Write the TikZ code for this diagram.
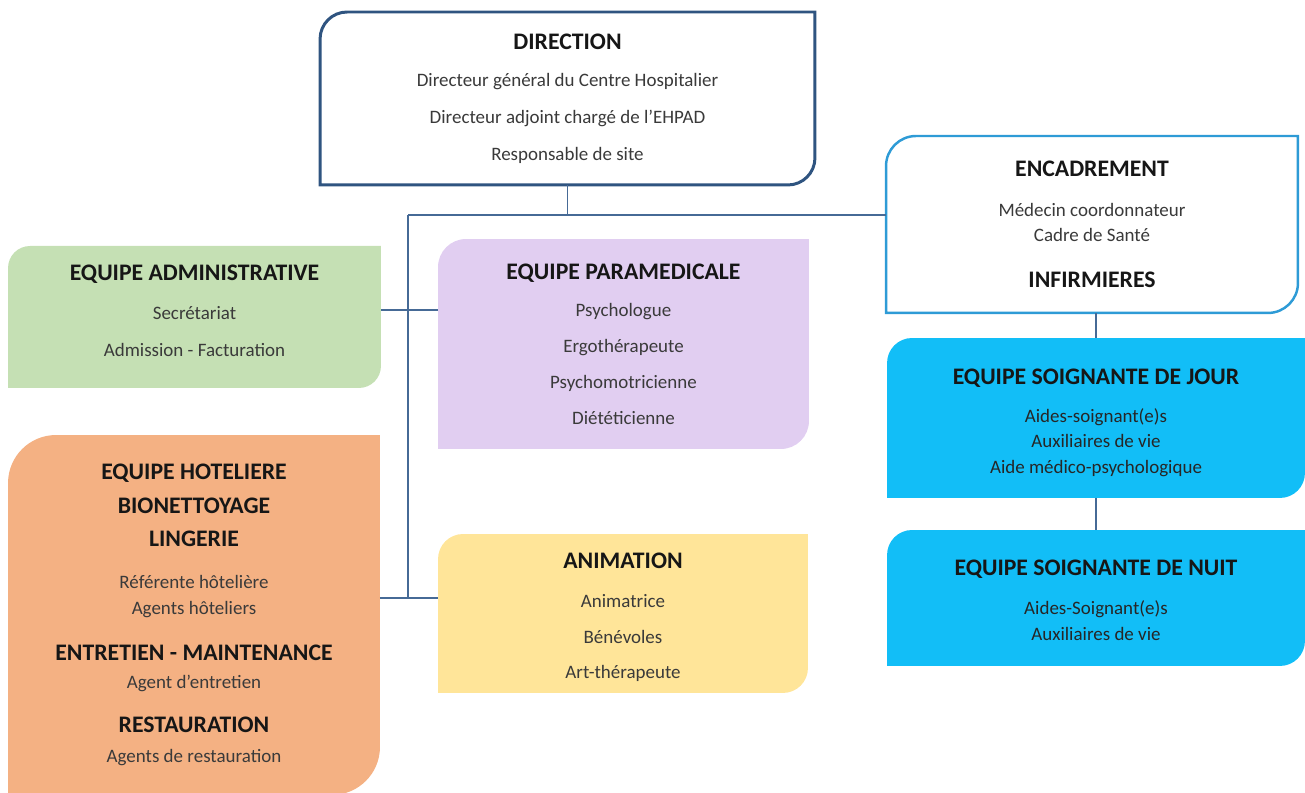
\documentclass[tikz,border=0pt]{standalone}
\usepackage{fontspec}
\setmainfont{Carlito}
\usetikzlibrary{backgrounds,calc}

\definecolor{dirblue}{RGB}{47,84,128}
\definecolor{linkblue}{RGB}{70,106,150}
\definecolor{encblue}{RGB}{46,155,214}
\definecolor{soinblue}{RGB}{18,190,247}
\definecolor{admgreen}{RGB}{197,224,180}
\definecolor{paramauve}{RGB}{225,206,241}
\definecolor{hotorange}{RGB}{244,177,131}
\definecolor{aniyellow}{RGB}{255,229,153}
\definecolor{bodytext}{RGB}{58,58,58}
\definecolor{titletext}{RGB}{22,22,22}

\newcommand{\ttl}[1]{{\fontsize{13.5}{12}\selectfont\bfseries\color{titletext}#1}}
% struts to move a text block inside its box
\newcommand{\up}[1]{\rule{0pt}{#1}}
\newcommand{\dn}[1]{\rule[-#1]{0pt}{#1}}
% fill (and stroke) with round top-left and bottom-right corners
\newcommand{\diagbg}[3]{%
  \path[#3] ($(#1.north west)+(0,-#2)$)
    arc[start angle=180,end angle=90,radius=#2*0.02cm] -- (#1.north east)
    -- ($(#1.south east)+(0,#2)$)
    arc[start angle=0,end angle=-90,radius=#2*0.02cm] -- (#1.south west) -- cycle;}

\tikzset{
  box/.style={rectangle, inner sep=0pt, outer sep=0pt, align=center,
    font=\fontsize{10.8}{12}\selectfont, text=bodytext},
  link/.style={draw=linkblue, line width=1pt},
}

\begin{document}
\begin{tikzpicture}[x=0.02cm, y=0.02cm]
  \useasboundingbox (0,0) rectangle (1305,793);

  \node[box, minimum width=9.9cm, minimum height=3.46cm] (dir) at (567.5,694.5)
    {\ttl{DIRECTION}\\[9pt] Directeur général du Centre Hospitalier\\[9pt]
     Directeur adjoint chargé de l’EHPAD\\[9pt] Responsable de site};
  \node[box, minimum width=8.24cm, minimum height=3.54cm] (enc) at (1092,568.5)
    {\ttl{ENCADREMENT}\\[10.7pt] Médecin coordonnateur\\[2.2pt] Cadre de Santé\\[14.1pt]
     \ttl{INFIRMIERES}};
  \node[box, minimum width=8.36cm, minimum height=3.2cm, text=black!85] (jour) at (1096,375)
    {\up{14.5pt}\ttl{EQUIPE SOIGNANTE DE JOUR}\\[9.5pt] Aides-soignant(e)s\\[2.7pt]
     Auxiliaires de vie\\[2.7pt] Aide médico-psychologique};
  \node[box, minimum width=8.36cm, minimum height=2.72cm, text=black!85] (nuit) at (1096,195)
    {\up{11.5pt}\ttl{EQUIPE SOIGNANTE DE NUIT}\\[10.1pt] Aides-Soignant(e)s\\[2.7pt] Auxiliaires de vie};
  \node[box, minimum width=7.46cm, minimum height=2.84cm] (adm) at (194.5,476)
    {\ttl{EQUIPE ADMINISTRATIVE}\\[10.1pt] Secrétariat\\[9pt] Admission - Facturation\dn{7pt}};
  \node[box, minimum width=7.42cm, minimum height=4.2cm] (para) at (623.5,449)
    {\ttl{EQUIPE PARAMEDICALE}\\[9.5pt] Psychologue\\[8.4pt] Ergothérapeute\\[8.4pt]
     Psychomotricienne\\[8.4pt] Diététicienne};
  \node[box, minimum width=7.44cm, minimum height=7.2cm] (hot) at (194,178)
    {\ttl{EQUIPE HOTELIERE}\\[7.3pt] \ttl{BIONETTOYAGE}\\[6.7pt] \ttl{LINGERIE}\\[11.8pt]
     Référente hôtelière\\[2.7pt] Agents hôteliers\\[14.1pt]
     \ttl{ENTRETIEN - MAINTENANCE}\\[4.4pt] Agent d’entretien\\[12.9pt]
     \ttl{RESTAURATION}\\[5pt] Agents de restauration};
  \node[box, minimum width=7.4cm, minimum height=3.18cm] (ani) at (623,179.5)
    {\up{13pt}\ttl{ANIMATION}\\[10.1pt] Animatrice\\[8.4pt] Bénévoles\\[7.8pt] Art-thérapeute};

  \begin{scope}[on background layer]
    \diagbg{dir}{27}{fill=white, draw=dirblue, line width=1.7pt}
    \diagbg{enc}{30}{fill=white, draw=encblue, line width=1.4pt}
    \diagbg{jour}{25}{fill=soinblue}
    \diagbg{nuit}{25}{fill=soinblue}
    \diagbg{adm}{22}{fill=admgreen}
    \diagbg{para}{28}{fill=paramauve}
    \diagbg{hot}{48}{fill=hotorange}
    \diagbg{ani}{25}{fill=aniyellow}
  \end{scope}

  \coordinate (hub) at (408,578);
  \coordinate (j1) at (408,483);
  \coordinate (j2) at (408,195);
  \draw[link] (dir.south) -- (dir.south |- hub);
  \draw[link] (hub) -- (hub -| enc.west);
  \draw[link] (hub) -- (j2);
  \draw[link] (adm.east |- j1) -- (para.west |- j1);
  \draw[link] (hot.east |- j2) -- (ani.west |- j2);
  \draw[link] (jour.north |- enc.south) -- (jour.north);
  \draw[link] (jour.south) -- (nuit.north);
\end{tikzpicture}
\end{document}
